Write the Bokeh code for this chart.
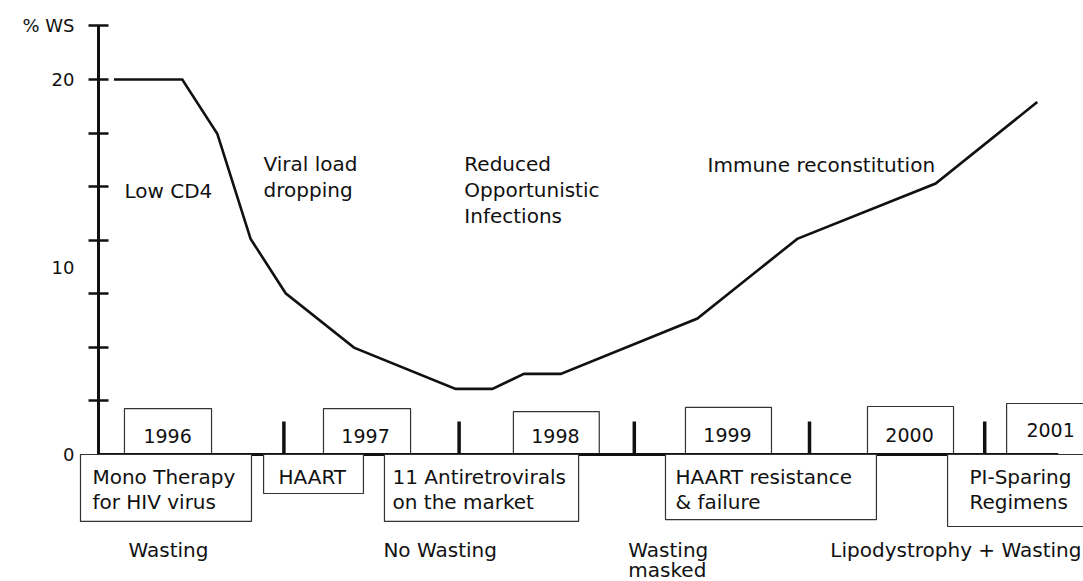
from bokeh.plotting import figure
from bokeh.models import Range1d, FixedTicker
from bokeh.core.properties import value
from bokeh.embed import file_html
from bokeh.resources import INLINE

# ---------------- data ----------------
curve_year = [1996.03, 1996.42, 1996.62, 1996.81, 1997.01, 1997.40, 1997.98,
              1998.19, 1998.37, 1998.58, 1999.36, 1999.93, 2000.72, 2001.30]
curve_ws = [20.0, 20.0, 17.1, 11.5, 8.6, 5.7, 3.5,
            3.5, 4.3, 4.3, 7.25, 11.5, 14.45, 18.8]

year_labels = ["1996", "1997", "1998", "1999", "2000", "2001"]
year_marks = [1997, 1998, 1999, 2000, 2001]

y_tick_values = [0, 10, 20]
y_tick_labels = ["0", "10", "20"]
y_axis_title = "% WS"

phase_labels = [["Low CD4"], ["Viral load", "dropping"],
                ["Reduced", "Opportunistic", "Infections"],
                ["Immune reconstitution"]]
therapy_labels = [["Mono Therapy", "for HIV virus"], ["HAART"],
                  ["11 Antiretrovirals", "on the market"],
                  ["HAART resistance", "& failure"],
                  ["PI-Sparing", "Regimens"]]
wasting_labels = [["Wasting"], ["No Wasting"], ["Wasting", "masked"],
                  ["Lipodystrophy + Wasting"]]

# ---------------- layout (positions) ----------------
FONT = value("DejaVu Sans")
INK = "#111111"
YSTEP = 20 / 7
Y_TOP = 8 * YSTEP

year_box_left = [1996.09, 1997.226, 1998.31, 1999.292, 2000.331, 2001.125]
year_box_right = [1996.587, 1997.723, 1998.80, 1999.783, 2000.822, 2001.62]
year_box_top = [2.45, 2.45, 2.29, 2.51, 2.56, 2.72]
year_text_x = [1996.336, 1997.466, 1998.55, 1999.532, 2000.571, 2001.376]
year_text_y = [0.97, 0.97, 0.97, 1.03, 1.03, 1.29]

ther_left = [1995.839, 1996.884, 1997.574, 1999.178, 2000.788]
ther_right = [1996.815, 1997.454, 1998.682, 2000.382, 2001.62]
ther_bottom = [-3.57, -2.08, -3.57, -3.47, -3.84]
ther_text_x = [1995.907, 1996.969, 1997.62, 1999.235, 2000.913]
ther_line_y = [-1.18, -2.51]

phase_x = [1996.09, 1996.884, 1998.03, 1999.418]
phase_y0 = [14.08, 15.52, 15.52, 15.46]
phase_dy = 1.387

wast_x = [1996.113, 1997.568, 1998.966, 2000.119]
wast_y0 = [-5.07, -5.07, -5.07, -5.07]
wast_dy = 1.1

p = figure(width=1083, height=581, output_backend="svg", toolbar_location=None,
           x_range=Range1d(1995.9418, 2001.5639), y_range=Range1d(-6.773, 23.36),
           x_axis_location=None, min_border_left=98, min_border_right=0,
           min_border_top=16, min_border_bottom=0)
p.outline_line_color = None
p.xgrid.visible = False
p.ygrid.visible = False
p.background_fill_color = "white"
p.border_fill_color = "white"

# y axis
yax = p.yaxis[0]
yax.ticker = FixedTicker(ticks=y_tick_values + [Y_TOP],
                         minor_ticks=[k * YSTEP for k in range(1, 9)])
overrides = {v: s for v, s in zip(y_tick_values, y_tick_labels)}
overrides[Y_TOP] = y_axis_title
yax.major_label_overrides = overrides
yax.bounds = (0, Y_TOP)
yax.axis_line_width = 3
yax.axis_line_color = INK
yax.major_tick_in = 0
yax.major_tick_out = 0
yax.minor_tick_in = 10
yax.minor_tick_out = 10
yax.minor_tick_line_width = 2.5
yax.minor_tick_line_color = INK
yax.major_label_standoff = 14
yax.major_label_text_font = "DejaVu Sans"
yax.major_label_text_font_size = "18px"
yax.major_label_text_color = INK

# year boxes
p.quad(left=year_box_left, right=year_box_right, bottom=[0] * 6, top=year_box_top,
       fill_color="white", line_color="#333333", line_width=1.2)
p.text(x=year_text_x, y=year_text_y, text=year_labels, text_font=FONT,
       text_font_size="19px", text_align="center", text_baseline="alphabetic",
       text_color=INK)

# therapy boxes (extend left of the y axis, so drawn on the overlay level)
p.quad(left=ther_left, right=ther_right, bottom=ther_bottom, top=[0] * 5,
       fill_color="white", line_color="#333333", line_width=1.2, level="overlay")
tx, ty, tt = [], [], []
for x0, lines in zip(ther_text_x, therapy_labels):
    for i, s in enumerate(lines):
        tx.append(x0)
        ty.append(ther_line_y[i])
        tt.append(s)
p.text(x=tx, y=ty, text=tt, text_font=FONT, text_font_size="20px",
       text_align="left", text_baseline="alphabetic", text_color=INK, level="overlay")

# baseline and year separators
p.segment(x0=[1995.9418], y0=[0], x1=[2001.42], y1=[0], line_color=INK, line_width=3)
p.segment(x0=year_marks, y0=[0] * 5, x1=year_marks, y1=[1.76] * 5,
          line_color=INK, line_width=3.5)

# curve
p.line(curve_year, curve_ws, line_color=INK, line_width=2.6, line_join="miter")

# phase labels
px_, py_, pt_ = [], [], []
for x0, y0, lines in zip(phase_x, phase_y0, phase_labels):
    for i, s in enumerate(lines):
        px_.append(x0)
        py_.append(y0 - i * phase_dy)
        pt_.append(s)
p.text(x=px_, y=py_, text=pt_, text_font=FONT, text_font_size="20px",
       text_align="left", text_baseline="alphabetic", text_color=INK)

# wasting labels
wx, wy, wt = [], [], []
for x0, y0, lines in zip(wast_x, wast_y0, wasting_labels):
    for i, s in enumerate(lines):
        wx.append(x0)
        wy.append(y0 - i * wast_dy)
        wt.append(s)
p.text(x=wx, y=wy, text=wt, text_font=FONT, text_font_size="20px",
       text_align="left", text_baseline="alphabetic", text_color=INK, level="overlay")

open("out.html", "w").write(file_html(p, INLINE))
